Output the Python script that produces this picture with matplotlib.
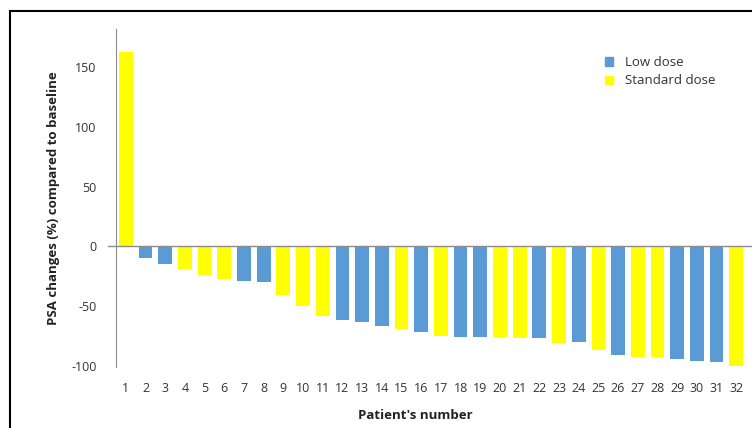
import matplotlib.pyplot as plt
from matplotlib.patches import Rectangle, Patch

# PSA change per patient (%), sorted descending
patients = list(range(1, 33))
psa_change = [
    163, -10, -15, -19, -24, -27, -29, -30,
    -41, -50, -58, -62, -63, -67, -69, -72,
    -75, -76, -76, -76, -77, -77, -81, -80,
    -87, -91, -93, -93, -94, -96, -97, -100,
]
# S = standard dose, L = low dose
dose_group = [
    "S", "L", "L", "S", "S", "S", "L", "L",
    "S", "S", "S", "L", "L", "L", "S", "L",
    "S", "L", "L", "S", "S", "L", "S", "L",
    "S", "L", "S", "S", "L", "L", "L", "S",
]
group_labels = {"L": "Low dose", "S": "Standard dose"}
group_colors = {"L": "#5B9BD5", "S": "#FFFF00"}

plt.rcParams["font.family"] = ["Open Sans", "DejaVu Sans"]
plt.rcParams["axes.unicode_minus"] = False

fig = plt.figure(figsize=(7.52, 4.28), dpi=100)
ax = fig.add_axes([116 / 752, 1 - 367 / 428, (752 - 116) / 752, (367 - 29) / 428])

colors = [group_colors[g] for g in dose_group]
ax.bar(patients, psa_change, width=0.7, color=colors, zorder=2)

# zero line, running a little left of the y axis like the Excel original
ax.plot([0.09, 33], [0, 0], color="#8c8c8c", lw=1, clip_on=False, zorder=3)

ax.set_xlim(0.5, 32.8)
ax.set_ylim(-101, 182)
ax.set_yticks([-100, -50, 0, 50, 100, 150])
ax.set_xticks(patients)
ax.tick_params(axis="both", length=0, labelsize=9, colors="#333333")
ax.tick_params(axis="x", pad=11)
ax.tick_params(axis="y", pad=14)

for side in ["top", "right", "bottom"]:
    ax.spines[side].set_visible(False)
ax.spines["left"].set_color("#8c8c8c")

ax.set_ylabel("PSA changes (%) compared to baseline", fontsize=9.5,
              fontweight="bold", color="#222222", labelpad=8)
ax.set_xlabel("Patient's number", fontsize=9.5, fontweight="bold",
              color="#222222")
ax.xaxis.set_label_coords(0.47, -0.125)

handles = [Patch(color=group_colors[k], label=group_labels[k]) for k in ["L", "S"]]
ax.legend(handles=handles, loc="upper left", bbox_to_anchor=(0.75, 0.955),
          frameon=False, fontsize=9.5, handlelength=0.6, handleheight=0.6,
          handletextpad=0.9, labelspacing=0.4, labelcolor="#333333")

# outer frame of the original picture (cropped on the right and bottom)
fig.patches.append(Rectangle((10 / 752, -0.1), 1.2, 1 - 11 / 428 + 0.1,
                             transform=fig.transFigure, fill=False,
                             edgecolor="black", lw=1.5))

fig.savefig("out.png", dpi=100)
